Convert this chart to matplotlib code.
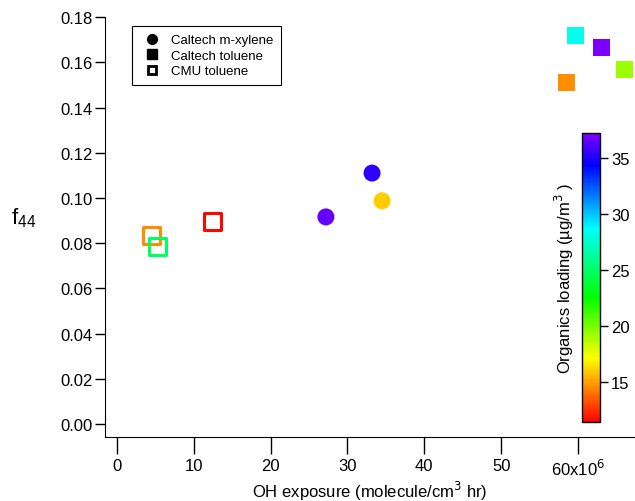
import matplotlib
matplotlib.use("Agg")
import matplotlib.pyplot as plt
from matplotlib.colors import LinearSegmentedColormap, Normalize
from matplotlib.lines import Line2D

plt.rcParams['font.family'] = ['Liberation Sans', 'DejaVu Sans']

# OH exposure (x1e6 molecule/cm3 hr), f44, organics loading (ug/m3)
xylene_x = [27.2, 33.2, 34.5]
xylene_f44 = [0.0916, 0.111, 0.0987]
xylene_load = [36.5, 35.3, 16.0]

tol_x = [59.6, 63.0, 66.0, 58.5]
tol_f44 = [0.172, 0.1664, 0.1566, 0.1509]
tol_load = [28.3, 37.0, 19.2, 14.6]

cmu_x = [4.5, 5.3, 12.4]
cmu_f44 = [0.0832, 0.0783, 0.0894]
cmu_load = [14.6, 25.0, 11.6]

x_ticks = [0, 10, 20, 30, 40, 50, 60]
x_ticklabels = ['0', '10', '20', '30', '40', '50', '60x10$^{6}$']
y_ticks = [0.00, 0.02, 0.04, 0.06, 0.08, 0.10, 0.12, 0.14, 0.16, 0.18]
cb_ticks = [15, 20, 25, 30, 35]

load_min, load_max = 11.4, 37.2

cmap = LinearSegmentedColormap.from_list('igor_rainbow', [
    (0.0, '#ff0000'), (0.11, '#ff8000'), (0.22, '#ffff00'), (0.43, '#00ff00'),
    (0.67, '#00ffff'), (0.89, '#0000ff'), (1.0, '#8000ff')])
norm = Normalize(load_min, load_max)

fig = plt.figure(figsize=(6.35, 5.02), dpi=100)
ax = fig.add_axes([0.165, 0.1275, 0.835, 0.8725])

ax.scatter(xylene_x, xylene_f44, c=xylene_load, cmap=cmap, norm=norm,
           marker='o', s=150, linewidths=0)
ax.scatter(tol_x, tol_f44, c=tol_load, cmap=cmap, norm=norm,
           marker='s', s=150, linewidths=0)
ax.scatter(cmu_x, cmu_f44, facecolors='none', edgecolors=cmap(norm(cmu_load)),
           marker='s', s=150, linewidths=2.2)

ax.set_xlim(-1.56, 67.4)
ax.set_ylim(-0.00575, 0.188)
ax.set_xticks(x_ticks)
ax.set_xticklabels(x_ticklabels)
ax.set_yticks(y_ticks)
ax.set_yticklabels(['%.2f' % v for v in y_ticks])
ax.spines['top'].set_visible(False)
ax.spines['right'].set_visible(False)
ax.spines['left'].set_bounds(-0.00575, 0.18)
ax.tick_params(axis='x', direction='out', length=12, width=1, labelsize=12, pad=3)
ax.tick_params(axis='y', direction='out', length=7, width=1, labelsize=12, pad=2)

ax.set_xlabel('OH exposure (molecule/cm$^{3}$ hr)', fontsize=12, labelpad=1)
fig.text(0.018, 0.565, '$\\mathregular{f_{44}}$', fontsize=16, ha='left', va='center')

handles = [
    Line2D([], [], marker='o', color='black', linestyle='none', markersize=7),
    Line2D([], [], marker='s', color='black', linestyle='none', markersize=7),
    Line2D([], [], marker='s', markerfacecolor='white', markeredgecolor='black',
           markeredgewidth=2, linestyle='none', markersize=6),
]
leg = ax.legend(handles, ['Caltech m-xylene', 'Caltech toluene', 'CMU toluene'],
                loc='upper left', bbox_to_anchor=(0.052, 0.938), fontsize=9.5,
                fancybox=False, edgecolor='black', framealpha=1,
                handletextpad=0.5, borderpad=0.6, labelspacing=0.25,
                handlelength=1.8, borderaxespad=0)
leg.get_frame().set_linewidth(0.8)

cax = fig.add_axes([0.9165, 0.157, 0.0283, 0.576])
sm = plt.cm.ScalarMappable(cmap=cmap, norm=norm)
cb = fig.colorbar(sm, cax=cax, ticks=cb_ticks)
cb.outline.set_linewidth(1)
cb.ax.tick_params(labelsize=12, length=6, width=1, pad=2)
cb.ax.yaxis.set_label_position('left')
cb.set_label('Organics loading (µg/m$^{3}$ )', fontsize=12, labelpad=4)

fig.savefig('out.png', dpi=100)
